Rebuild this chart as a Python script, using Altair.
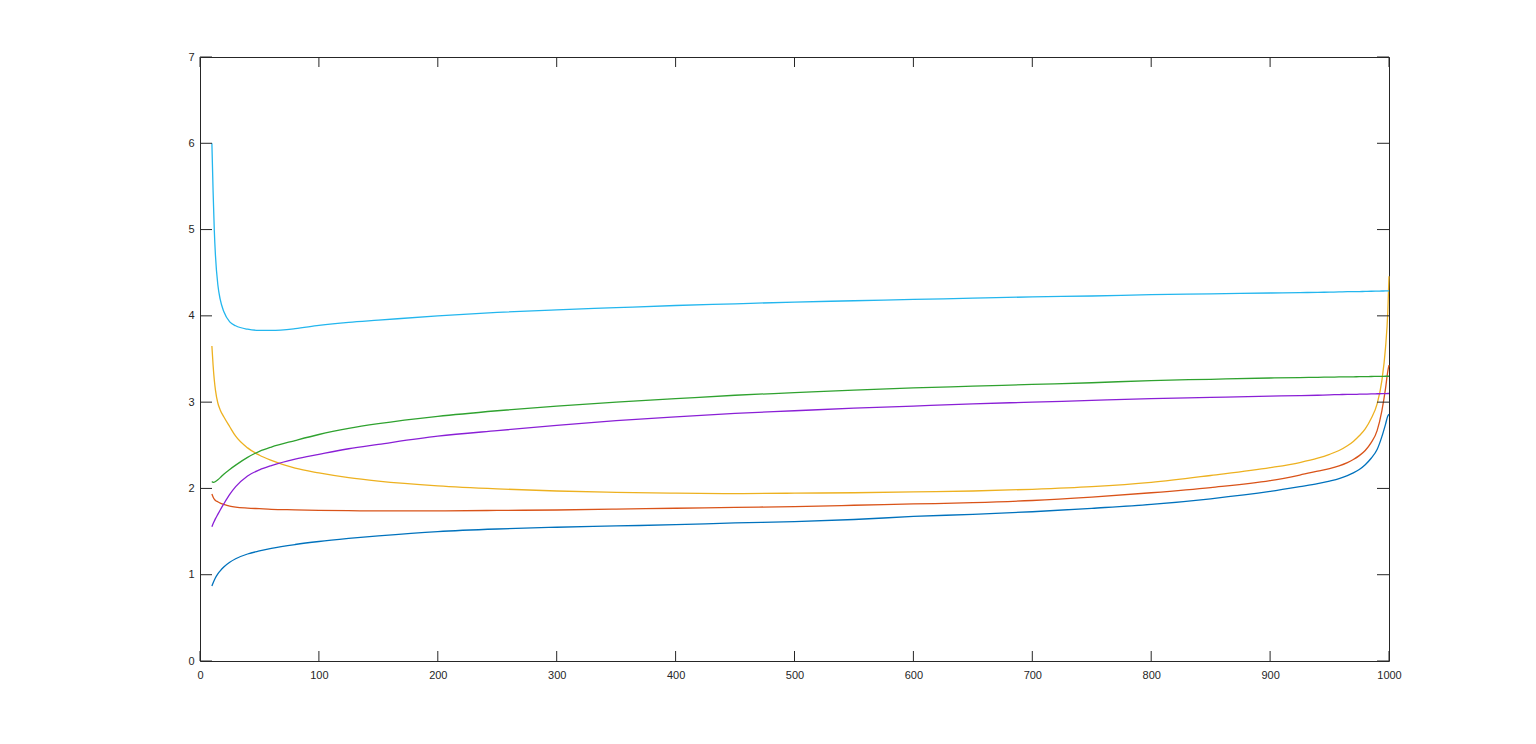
import altair as alt
import pandas as pd

# Sample positions along x (shared by all six curves)
X = [10, 11, 12, 13, 15, 17, 20, 25, 30, 40, 50, 60, 80, 100, 125, 150,
     200, 250, 300, 350, 400, 450, 500, 550, 600, 650, 700, 750, 800, 850,
     900, 925, 940, 950, 958, 965, 970, 975, 980, 985, 990, 994, 997, 999, 1000]

BLUE = [0.87, 0.905, 0.937, 0.965, 1.01, 1.045, 1.09, 1.145, 1.185, 1.24, 1.275, 1.305, 1.35, 1.385, 1.42, 1.45,
        1.50, 1.53, 1.55, 1.565, 1.58, 1.60, 1.615, 1.64, 1.675, 1.70, 1.73, 1.77, 1.815, 1.88,
        1.965, 2.02, 2.055, 2.085, 2.113, 2.148, 2.18, 2.22, 2.275, 2.35, 2.45, 2.60, 2.74, 2.84, 2.86]
RED = [1.935, 1.90, 1.875, 1.86, 1.845, 1.83, 1.815, 1.795, 1.783, 1.772, 1.765, 1.758, 1.752, 1.746, 1.742, 1.74,
       1.74, 1.745, 1.75, 1.76, 1.77, 1.78, 1.79, 1.805, 1.82, 1.835, 1.86, 1.90, 1.95, 2.01,
       2.09, 2.155, 2.20, 2.23, 2.262, 2.30, 2.335, 2.38, 2.44, 2.53, 2.67, 2.90, 3.15, 3.36, 3.43]
ORANGE = [3.65, 3.43, 3.26, 3.14, 2.99, 2.91, 2.83, 2.715, 2.605, 2.47, 2.385, 2.325, 2.235, 2.18, 2.125, 2.085,
          2.03, 1.995, 1.97, 1.955, 1.945, 1.94, 1.945, 1.95, 1.96, 1.97, 1.99, 2.02, 2.07, 2.15,
          2.24, 2.30, 2.35, 2.395, 2.44, 2.495, 2.545, 2.61, 2.69, 2.81, 2.98, 3.25, 3.62, 4.05, 4.46]
PURPLE = [1.556, 1.59, 1.62, 1.65, 1.70, 1.75, 1.82, 1.93, 2.02, 2.145, 2.215, 2.265, 2.34, 2.395, 2.46, 2.51,
          2.605, 2.67, 2.73, 2.785, 2.83, 2.87, 2.90, 2.93, 2.955, 2.98, 3.00, 3.02, 3.04, 3.055,
          3.07, 3.075, 3.08, 3.085, 3.087, 3.09, 3.09, 3.092, 3.093, 3.095, 3.097, 3.098, 3.099, 3.10, 3.10]
GREEN = [2.08, 2.07, 2.072, 2.08, 2.10, 2.125, 2.165, 2.22, 2.27, 2.36, 2.43, 2.48, 2.555, 2.625, 2.695, 2.75,
         2.835, 2.90, 2.955, 3.00, 3.04, 3.08, 3.11, 3.14, 3.165, 3.185, 3.205, 3.225, 3.25, 3.265,
         3.28, 3.285, 3.288, 3.29, 3.292, 3.293, 3.294, 3.295, 3.296, 3.297, 3.298, 3.299, 3.30, 3.30, 3.30]
CYAN = [6.00, 5.45, 5.00, 4.70, 4.36, 4.19, 4.05, 3.93, 3.885, 3.845, 3.832, 3.832, 3.852, 3.89, 3.925, 3.95,
        4.00, 4.04, 4.07, 4.095, 4.12, 4.14, 4.16, 4.175, 4.19, 4.205, 4.22, 4.23, 4.245, 4.255,
        4.265, 4.27, 4.272, 4.275, 4.277, 4.28, 4.28, 4.282, 4.283, 4.285, 4.287, 4.288, 4.289, 4.29, 4.29]

SERIES = ['s1', 's2', 's3', 's4', 's5', 's6']
COLORS = ['#0072BD', '#D95319', '#EDB120', '#8A1FD6', '#2FA22F', '#23B6EE']

X_TICKS = [0, 100, 200, 300, 400, 500, 600, 700, 800, 900, 1000]
Y_TICKS = [0, 1, 2, 3, 4, 5, 6, 7]

W, H = 1189, 604
INK = '#262626'
FONT = 'Liberation Sans'

rows = []
for name, ys in zip(SERIES, [BLUE, RED, ORANGE, PURPLE, GREEN, CYAN]):
  for order, (x, y) in enumerate(zip(X, ys)):
    rows.append({'series': name, 'x': x, 'y': y, 'order': order})
df = pd.DataFrame(rows)

x_scale = alt.Scale(domain=[0, 1000], nice=False, zero=False)
y_scale = alt.Scale(domain=[0, 7], nice=False, zero=False)

x_axis = alt.Axis(values=X_TICKS, format='d', ticks=False, grid=False, domain=False,
                  labelPadding=8, labelFontSize=11, labelColor=INK, labelFont=FONT,
                  labelFlush=False)
y_axis = alt.Axis(values=Y_TICKS, format='d', ticks=False, grid=False, domain=False,
                  labelPadding=6, labelFontSize=11, labelColor=INK, labelFont=FONT,
                  labelFlush=False)

lines = alt.Chart(df).mark_line(strokeWidth=1.3, interpolate='monotone').encode(
  x=alt.X('x:Q', scale=x_scale, axis=x_axis, title=None),
  y=alt.Y('y:Q', scale=y_scale, axis=y_axis, title=None),
  color=alt.Color('series:N', scale=alt.Scale(domain=SERIES, range=COLORS), legend=None),
  order='order:Q'
)

xt = pd.DataFrame({'t': X_TICKS})
yt = pd.DataFrame({'t': Y_TICKS})

# inward ticks on all four sides of the box
def _xticks(y0, y1):
  return alt.Chart(xt).mark_rule(color=INK, strokeWidth=1).encode(
    x=alt.X('t:Q', scale=x_scale, axis=x_axis, title=None),
    y=alt.value(y0), y2=alt.value(y1))

def _yticks(x0, x1):
  return alt.Chart(yt).mark_rule(color=INK, strokeWidth=1).encode(
    y=alt.Y('t:Q', scale=y_scale, axis=y_axis, title=None),
    x=alt.value(x0), x2=alt.value(x1))

chart = alt.layer(
  lines,
  _xticks(H, H - 10), _xticks(0, 10),
  _yticks(0, 12), _yticks(W, W - 12),
).properties(
  width=W, height=H,
  autosize=alt.AutoSizeParams(type='none'),
  padding={'left': 192, 'top': 49, 'right': 130, 'bottom': 60}
).configure_view(
  stroke=INK, strokeWidth=1
)

chart.save('out.html', embed_options={'renderer': 'svg', 'actions': False})
